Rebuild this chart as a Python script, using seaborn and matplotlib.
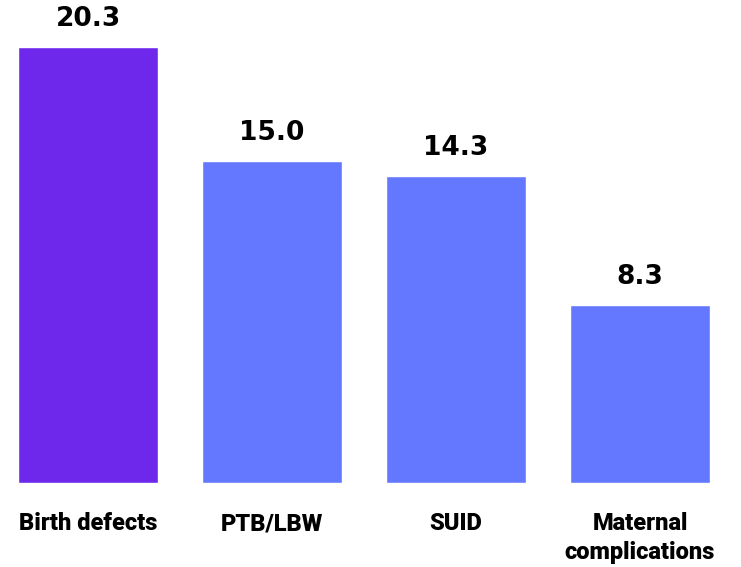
import matplotlib
matplotlib.use("Agg")
import matplotlib.pyplot as plt
import seaborn as sns
import pandas as pd

categories = ["Birth defects", "PTB/LBW", "SUID", "Maternal\ncomplications"]
values = [20.3, 15.0, 14.3, 8.3]
value_labels = ["20.3", "15.0", "14.3", "8.3"]
colors = ["#6E28EB", "#6478FF", "#6478FF", "#6478FF"]

sns.set_theme(style="white")

df = pd.DataFrame({"cat": categories, "val": values})
fig = plt.figure(figsize=(7.41, 5.67), dpi=100)
ax = fig.add_axes([0, 84/567, 1, 483/567])
sns.barplot(data=df, x="cat", y="val", hue="cat", palette=colors, width=0.765,
            legend=False, ax=ax, saturation=1)
ax.set_xlim(-88/184, (741-88)/184)
ax.set_ylim(0, 20.3*483/436)
for i, (v, t) in enumerate(zip(values, value_labels)):
    ax.annotate(t, (i, v), xytext=(0, 28), textcoords="offset pixels",
                ha="center", va="center", fontsize=19, fontweight="heavy",
                family=["DejaVu Sans"], color="black")
for s in ax.spines.values():
    s.set_visible(False)
ax.set_xlabel("")
ax.set_ylabel("")
ax.set_yticks([])
ax.set_xticks(range(len(categories)))
ax.set_xticklabels(categories, fontsize=17, fontweight="black", family=["Roboto", "DejaVu Sans"],
                   color="black", linespacing=1.3, va="top")
ax.tick_params(axis="x", length=0, pad=21)
fig.savefig("out.png", dpi=100)
